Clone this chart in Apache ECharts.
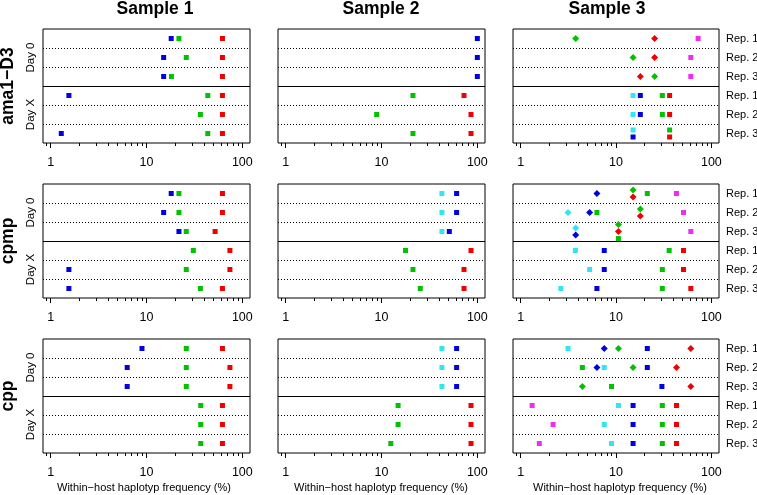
<!DOCTYPE html>
<html><head><meta charset="utf-8">
<script src="https://cdn.jsdelivr.net/npm/echarts@6/dist/echarts.min.js"></script>
<style>html,body{margin:0;padding:0;background:#fff}#c{width:757px;height:495px}</style>
</head><body><div id="c"></div>
<script>
// ---------- labels ----------
const genes = ['ama1−D3', 'cpmp', 'cpp'];
const samples = ['Sample 1', 'Sample 2', 'Sample 3'];
const dayLabels = ['Day 0', 'Day X'];
const repLabels = ['Rep. 1', 'Rep. 2', 'Rep. 3', 'Rep. 1', 'Rep. 2', 'Rep. 3'];
const xTickLabels = [1, 10, 100];
const xMinorTicks = [0.9, 2, 3, 4, 5, 6, 7, 8, 9, 20, 30, 40, 50, 60, 70, 80, 90];
const xTitle = 'Within−host haplotyp frequency (%)';

// ---------- data: frequency (%) per row (Day 0 Rep.1-3, Day X Rep.1-3) ----------
// ama1-D3
const a1s1_blue  = [18.1, 15.1, 15.1, 1.55, null, 1.29];
const a1s1_green = [21.8, 26.0, 18.2, 43.6, 36.5, 43.6];
const a1s1_red   = [62, 62, 62, 62, 62, 62];
const a1s2_blue  = [100, 100, 100, null, null, null];
const a1s2_green = [null, null, null, 21.3, 8.9, 21.3];
const a1s2_red   = [null, null, null, 72.6, 85.9, 85.9];
const a1s3_greenD = [3.78, 15.1, 25.4, null, null, null];
const a1s3_redD   = [25.4, 25.4, 18.0, null, null, null];
const a1s3_magenta = [72.6, 60.9, 60.9, null, null, null];
const a1s3_cyan  = [null, null, null, 15.1, 15.1, 15.1];
const a1s3_blue  = [null, null, null, 18.0, 18.0, 15.1];
const a1s3_green = [null, null, null, 30.6, 30.6, 36.5];
const a1s3_red   = [null, null, null, 36.5, 36.5, 36.5];
// stacking of tied values (steps, negative = drawn higher)
const a1s3_cyan_stack  = [0, 0, 0, 0, 0, -1];
const a1s3_blue_stack  = [0, 0, 0, 0, 0, 1];
const a1s3_green_stack = [0, 0, 0, 0, 0, -1];
const a1s3_red_stack   = [0, 0, 0, 0, 0, 1];

// cpmp
const cms1_blue  = [18.1, 15.1, 21.8, null, 1.55, 1.55];
const cms1_green = [21.8, 21.8, 26.0, 30.8, 26.0, 36.5];
const cms1_red   = [62, 62, 52, 74.2, 74.2, 62];
const cms2_cyan  = [42.7, 42.7, 42.7, null, null, null];
const cms2_blue  = [60.8, 60.8, 51.0, null, null, null];
const cms2_green = [null, null, null, 17.8, 21.3, 25.4];
const cms2_red   = [null, null, null, 85.9, 72.6, 72.6];
const cms3_cyanD  = [null, 3.14, 3.78, null, null, null];
const cms3_blueD  = [6.31, 5.29, 3.78, null, null, null];
const cms3_greenD = [15.1, 18.0, 10.6, null, null, null];
const cms3_redD   = [15.1, 18.0, 10.6, null, null, null];
const cms3_magenta = [43.1, 51.0, 60.9, null, null, null];
const cms3_cyan  = [null, null, null, 3.75, 5.29, 2.64];
const cms3_blue  = [null, null, null, 7.53, 7.53, 6.31];
const cms3_green = [21.3, 6.31, 10.6, 36.1, 30.6, 30.6];
const cms3_red   = [null, null, null, 51.0, 51.0, 60.9];
const cms3_cyanD_stack  = [0, 0, -1, 0, 0, 0];
const cms3_blueD_stack  = [0, 0, 1, 0, 0, 0];
const cms3_greenD_stack = [-1, -1, -2, 0, 0, 0];
const cms3_redD_stack   = [1, 1, 0, 0, 0, 0];
const cms3_green_stack  = [0, 0, 2, 0, 0, 0];

// cpp
const cps1_blue  = [8.97, 6.29, 6.29, null, null, null];
const cps1_green = [26.0, 26.0, 26.0, 36.8, 36.8, 36.8];
const cps1_red   = [62, 74.2, 74.2, 62, 62, 62];
const cps2_cyan  = [42.7, 42.7, 42.7, null, null, null];
const cps2_blue  = [60.8, 60.8, 60.8, null, null, null];
const cps2_green = [null, null, null, 14.9, 14.9, 12.5];
const cps2_red   = [null, null, null, 85.9, 85.9, 85.9];
const cps3_cyan  = [3.14, 7.53, null, 10.6, 7.53, 8.97];
const cps3_blueD = [7.53, 6.31, null, null, null, null];
const cps3_greenD = [10.6, 15.1, 4.44, null, null, null];
const cps3_redD  = [60.9, 43.1, 60.9, null, null, null];
const cps3_blue  = [21.3, 21.3, 30.3, 15.1, 15.1, 15.1];
const cps3_green = [null, 4.44, 8.97, 30.6, 30.6, 30.6];
const cps3_red   = [null, null, null, 43.1, 43.1, 43.1];
const cps3_magenta = [null, null, null, 1.32, 2.19, 1.57];

// ---------- styles / layout ----------
const COL = {red:'#f00000', blue:'#0000e0', green:'#00c300', cyan:'#2ee6f6', magenta:'#f02cf0'};
const SQ = 'rect', DI = 'diamond';
const FONT = '"Liberation Sans", Arial, Helvetica, sans-serif';
const colLeft = [43, 278, 513], colW = [207, 207, 206];
const rowTop = [29, 184, 339], panelH = 114;
const STACK_STEP = 0.185;
const NROWS = 6;
const titleX = [155, 381, 607];
const xTitleX = [144, 381, 620];

const panels = [
  [ // ama1-D3
    [[a1s1_blue,null,'blue',SQ],[a1s1_green,null,'green',SQ],[a1s1_red,null,'red',SQ]],
    [[a1s2_blue,null,'blue',SQ],[a1s2_green,null,'green',SQ],[a1s2_red,null,'red',SQ]],
    [[a1s3_greenD,null,'green',DI],[a1s3_redD,null,'red',DI],[a1s3_magenta,null,'magenta',SQ],
     [a1s3_cyan,a1s3_cyan_stack,'cyan',SQ],[a1s3_blue,a1s3_blue_stack,'blue',SQ],
     [a1s3_green,a1s3_green_stack,'green',SQ],[a1s3_red,a1s3_red_stack,'red',SQ]]
  ],
  [ // cpmp
    [[cms1_blue,null,'blue',SQ],[cms1_green,null,'green',SQ],[cms1_red,null,'red',SQ]],
    [[cms2_cyan,null,'cyan',SQ],[cms2_blue,null,'blue',SQ],[cms2_green,null,'green',SQ],[cms2_red,null,'red',SQ]],
    [[cms3_cyanD,cms3_cyanD_stack,'cyan',DI],[cms3_blueD,cms3_blueD_stack,'blue',DI],
     [cms3_greenD,cms3_greenD_stack,'green',DI],[cms3_redD,cms3_redD_stack,'red',DI],
     [cms3_magenta,null,'magenta',SQ],[cms3_cyan,null,'cyan',SQ],[cms3_blue,null,'blue',SQ],
     [cms3_green,cms3_green_stack,'green',SQ],[cms3_red,null,'red',SQ]]
  ],
  [ // cpp
    [[cps1_blue,null,'blue',SQ],[cps1_green,null,'green',SQ],[cps1_red,null,'red',SQ]],
    [[cps2_cyan,null,'cyan',SQ],[cps2_blue,null,'blue',SQ],[cps2_green,null,'green',SQ],[cps2_red,null,'red',SQ]],
    [[cps3_cyan,null,'cyan',SQ],[cps3_blueD,null,'blue',DI],[cps3_greenD,null,'green',DI],
     [cps3_redD,null,'red',DI],[cps3_blue,null,'blue',SQ],[cps3_green,null,'green',SQ],
     [cps3_red,null,'red',SQ],[cps3_magenta,null,'magenta',SQ]]
  ]
];

const XMIN = Math.pow(10, -0.08), XMAX = Math.pow(10, 2.08);
const grid = [], xAxis = [], yAxis = [], series = [], graphic = [];

function baseX(g) {
  return {type: 'log', gridIndex: g, position: 'bottom', min: XMIN, max: XMAX,
    axisLine: {show: false, onZero: false}, splitLine: {show: false}, minorSplitLine: {show: false}};
}

for (let r = 0; r < 3; r++) {
  for (let c = 0; c < 3; c++) {
    const g = grid.length;
    grid.push({left: colLeft[c], top: rowTop[r], width: colW[c], height: panelH,
      show: true, borderColor: '#000', borderWidth: 1, backgroundColor: 'transparent'});
    xAxis.push(Object.assign(baseX(g), {
      axisTick: {show: true, customValues: xTickLabels, length: 5, lineStyle: {color: '#000', width: 1}},
      axisLabel: {show: true, customValues: xTickLabels, margin: 13, color: '#000', fontSize: 12.5, fontFamily: FONT,
        formatter: v => String(Math.round(v))}}));
    // rows counted from the bottom of the panel: Day 0 Rep.1 is the highest row
    yAxis.push({type: 'value', gridIndex: g, min: 0, max: NROWS, interval: 1,
      axisLine: {show: false, onZero: false}, axisTick: {show: false}, axisLabel: {show: false},
      splitLine: {show: true, showMinLine: false, showMaxLine: false,
        lineStyle: {color: '#000', type: [1, 2], width: 1}}});
    panels[r][c].forEach((s, k) => {
      const [vals, stack, color, shape] = s;
      const data = [];
      vals.forEach((v, i) => {
        if (v == null) return;
        const st = stack ? stack[i] : 0;
        data.push([v, NROWS - (i + 0.5) - st * STACK_STEP]);
      });
      const ser = {type: 'scatter', xAxisIndex: g, yAxisIndex: g, data,
        symbol: shape, symbolSize: shape === DI ? 7 : 5,
        itemStyle: {color: COL[color], opacity: 1}, silent: true, animation: false, z: 5};
      if (k === 0) {
        ser.markLine = {silent: true, symbol: 'none', animation: false,
          label: {show: false}, lineStyle: {color: '#000', type: 'solid', width: 1},
          data: [{yAxis: NROWS / 2}]};
      }
      series.push(ser);
    });
  }
}
// helper grids (same rectangles, invisible) carrying the shorter minor ticks
for (let r = 0; r < 3; r++) {
  for (let c = 0; c < 3; c++) {
    const g = grid.length;
    grid.push({left: colLeft[c], top: rowTop[r], width: colW[c], height: panelH, show: false});
    xAxis.push(Object.assign(baseX(g), {
      axisTick: {show: true, customValues: xMinorTicks, length: 3, lineStyle: {color: '#000', width: 1}},
      axisLabel: {show: false}}));
    yAxis.push({type: 'value', gridIndex: g, min: 0, max: NROWS, show: false,
      axisLine: {onZero: false}, splitLine: {show: false}});
  }
}

// titles
samples.forEach((s, c) => graphic.push({type: 'text', x: titleX[c], y: 9,
  style: {text: s, fill: '#000', font: 'bold 17.5px ' + FONT, align: 'center', verticalAlign: 'middle'}}));
// gene labels + day labels
genes.forEach((gname, r) => {
  const top = rowTop[r];
  graphic.push({type: 'text', x: 8, y: top + panelH / 2, rotation: Math.PI / 2,
    style: {text: gname, fill: '#000', font: 'bold 17.5px ' + FONT, align: 'center', verticalAlign: 'middle'}});
  dayLabels.forEach((d, h) => graphic.push({type: 'text', x: 31, y: top + panelH / 4 + h * panelH / 2, rotation: Math.PI / 2,
    style: {text: d, fill: '#000', font: '11.5px ' + FONT, align: 'center', verticalAlign: 'middle'}}));
  repLabels.forEach((rl, i) => graphic.push({type: 'text', x: 726, y: top + (i + 0.5) * panelH / 6,
    style: {text: rl, fill: '#000', font: '11px ' + FONT, align: 'left', verticalAlign: 'middle'}}));
});
// x titles
xTitleX.forEach(x => graphic.push({type: 'text', x: x, y: 488,
  style: {text: xTitle, fill: '#000', font: '11px ' + FONT, align: 'center', verticalAlign: 'middle'}}));

const chart = echarts.init(document.getElementById('c'), null, {renderer: 'canvas'});
chart.setOption({animation: false, backgroundColor: '#fff', grid, xAxis, yAxis, series, graphic});
</script></body></html>
